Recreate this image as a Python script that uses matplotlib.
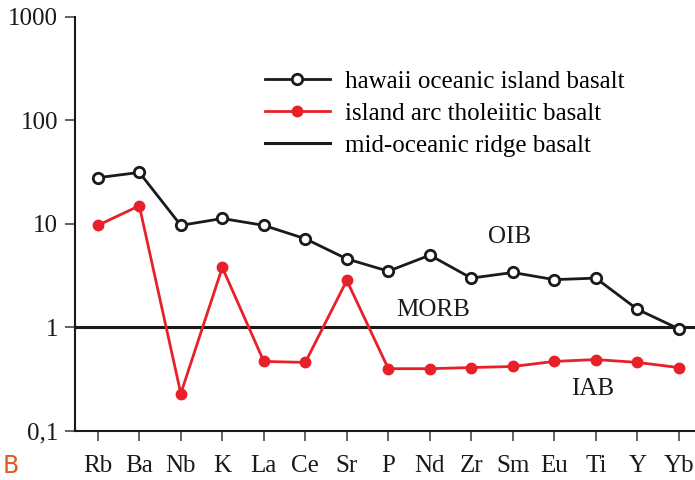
import matplotlib
matplotlib.use("Agg")
import matplotlib.pyplot as plt
import numpy as np

# element order on the spider diagram
elements = ["Rb", "Ba", "Nb", "K", "La", "Ce", "Sr", "P", "Nd", "Zr", "Sm", "Eu", "Ti", "Y", "Yb"]

# normalized concentrations
oib = [28, 31.5, 9.7, 11.3, 9.7, 7.2, 4.6, 3.5, 5.0, 3.0, 3.4, 2.9, 3.0, 1.5, 0.97]
iab = [9.7, 15, 0.23, 3.8, 0.47, 0.46, 2.85, 0.40, 0.40, 0.41, 0.42, 0.47, 0.49, 0.46, 0.41]
morb = 1.0

ytick_vals = [0.1, 1, 10, 100, 1000]
ytick_labels = ["0,1", "1", "10", "100", "1000"]

plt.rcParams["font.family"] = ["Liberation Serif", "DejaVu Serif"]

fig = plt.figure(figsize=(6.95, 4.80), dpi=100)
ax = fig.add_axes([0.1079, 0.1021, 0.8921, 0.8625])

x = np.arange(len(elements))
red = "#e8202a"

ax.axhline(morb, color="#1a1a1a", lw=2.2, zorder=1, label="mid-oceanic ridge basalt")
ax.plot(x, oib, color="#1a1a1a", lw=2, marker="o", ms=7.5, mfc="white",
        mec="#1a1a1a", mew=2, zorder=3, label="hawaii oceanic island basalt")
ax.plot(x, iab, color=red, lw=2, marker="o", ms=7.5, mfc=red, mec=red,
        zorder=2, label="island arc tholeiitic basalt")

ax.set_yscale("log")
ax.set_ylim(0.1, 1000)
ax.set_xlim(-0.55, 14.39)
ax.set_yticks(ytick_vals)
ax.set_yticklabels(ytick_labels)
ax.yaxis.set_minor_locator(matplotlib.ticker.NullLocator())
ax.set_xticks(x)
ax.set_xticklabels(elements)

for side in ["top", "right"]:
    ax.spines[side].set_visible(False)
for side in ["left", "bottom"]:
    ax.spines[side].set_linewidth(1.5)
    ax.spines[side].set_color("#1a1a1a")
ax.tick_params(axis="both", direction="out", length=7, width=1.3, color="#555555",
               labelsize=18, labelcolor="#1a1a1a")
ax.tick_params(axis="x", pad=10)
ax.tick_params(axis="y", pad=5)

handles, labels = ax.get_legend_handles_labels()
order = [1, 2, 0]
ax.legend([handles[i] for i in order], [labels[i] for i in order],
          loc="upper left", bbox_to_anchor=(0.27, 0.925), frameon=False,
          fontsize=18, handlelength=2.6, handletextpad=0.6, labelspacing=0.38)

ax.text(9.93, 7.57, "OIB", fontsize=18, ha="center", va="center", color="#1a1a1a")
ax.text(8.07, 1.46, "MORB", fontsize=18, ha="center", va="center", color="#1a1a1a")
ax.text(11.93, 0.257, "IAB", fontsize=18, ha="center", va="center", color="#1a1a1a")

fig.text(0.004, 0.03, "B", fontsize=17, color="#e05a1e", family="DejaVu Sans",
         ha="left", va="center")

fig.savefig("out.png", dpi=100)
